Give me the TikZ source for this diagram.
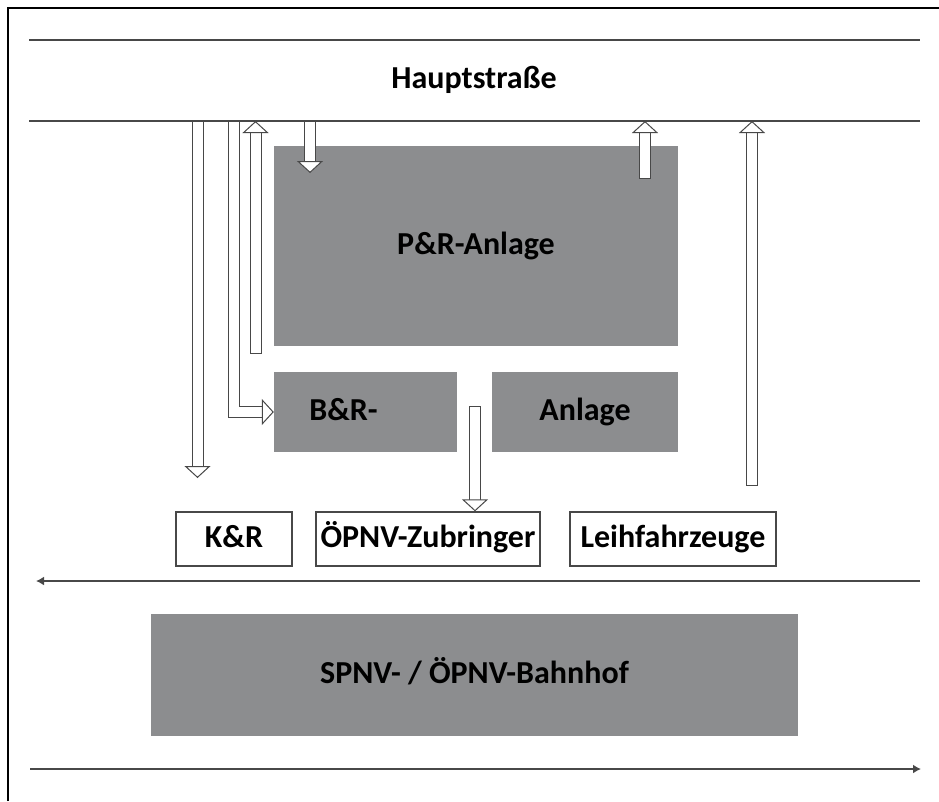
\documentclass[tikz,border=0pt]{standalone}
\usepackage{fontspec}
\setmainfont{Carlito}
\usetikzlibrary{positioning,arrows.meta}
\definecolor{boxgray}{RGB}{140,141,143}
\definecolor{linegray}{RGB}{72,72,72}
\newcommand{\labelfont}{\fontsize{32}{38}\selectfont\bfseries}

\begin{document}
\begin{tikzpicture}[x=1pt,y=-1pt,
		w/.style={font=\labelfont,text height=21pt,text depth=5pt},
		g/.style={w,rectangle,fill=boxgray,inner sep=0pt},
		wb/.style={w,rectangle,draw=linegray,line width=1.3pt,fill=white,minimum height=54pt,inner sep=0pt},
		road/.style={draw=linegray,line width=1.5pt},
		rail/.style={draw=linegray,line width=2pt,-{Latex[length=8pt,width=9pt]}},
		a/.style={draw=linegray,line width=1pt,double=white,double distance=10pt,line cap=rect,
			-{Triangle[open,fill=white,length=12pt 0 0,width=26pt 0 0,line width=1pt 0 0]}},
		open end/.style={line cap=butt}
		]
		\useasboundingbox (0,0) rectangle (939,801);
		\draw [line width=1.5pt] (8,801) -- (8,8) -- (939,8);
		
		\node [w] (haupt) at (474,80) {Hauptstraße};
		\node [g,minimum width=404pt,minimum height=200pt] (pr) at (476,246) {P\&R-Anlage};
		\node [g,minimum width=183pt,minimum height=80pt,label={[w,xshift=-22pt]center:B\&R-}] (br) at (365.5,412) {};
		\node [g,minimum width=186pt,minimum height=80pt] (anlage) at (585,412) {Anlage};
		\node [wb,minimum width=116pt] (kr) at (234,539) {K\&R};
		\node [wb,minimum width=224pt] (zub) at (428,539) {ÖPNV-Zubringer};
		\node [wb,minimum width=206pt] (leih) at (673,539) {Leihfahrzeuge};
		\node [g,minimum width=647pt,minimum height=122pt] (bahnhof) at (474.5,675) {SPNV- / ÖPNV-Bahnhof};
		
		% ends of the road and the tracks
		\coordinate (road north w) at (29,40);
		\coordinate (road north e) at (920,40);
		\coordinate (road south w) at (29,121);
		\coordinate (road south e) at (920,121);
		\coordinate (track north e) at (920,581);
		\coordinate (track north w) at (36,581);
		\coordinate (track south w) at (30,769);
		\coordinate (track south e) at (921,769);
		
		% free ends of the block arrows
		\coordinate (kr from) at (197.5,121);
		\coordinate (kr to) at (197.5,478);
		\coordinate (br from) at (234,121);
		\coordinate (br back) at (255.5,348);
		\coordinate (br out) at (255.5,121);
		\coordinate (pr from) at (310,121);
		\coordinate (pr to) at (310,173);
		\coordinate (pr back) at (645,173);
		\coordinate (pr out) at (645,121);
		\coordinate (leih back) at (752,480);
		\coordinate (leih out) at (752,121);
		\coordinate (zub from) at (475,412);
		
		\path [a,open end] (kr from) -- (kr to);
		\path [a,open end] (br from) |- (br.west);
		\path [a] (br back) -- (br out);
		\path [a,open end] (pr from) -- (pr to);
		\path [a] (pr back) -- (pr out);
		\path [a] (leih back) -- (leih out);
		\path [a] (zub from) -- (zub from |- zub.north);
		
		\path [road] (road north w) -- (road north e);
		\path [road] (road south w) -- (road south e);
		\path [rail] (track north e) -- (track north w);
		\path [rail] (track south w) -- (track south e);
		
	\end{tikzpicture}
\end{document}
